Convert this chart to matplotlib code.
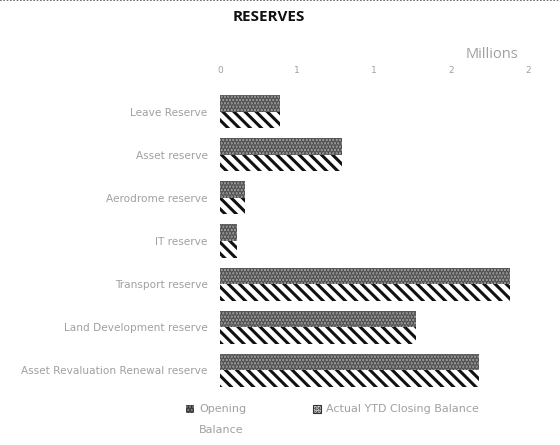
import matplotlib
matplotlib.use("Agg")
import matplotlib.pyplot as plt
import numpy as np
from matplotlib.patches import Rectangle
from matplotlib.lines import Line2D

categories = ["Leave Reserve", "Asset reserve", "Aerodrome reserve", "IT reserve",
              "Transport reserve", "Land Development reserve",
              "Asset Revaluation Renewal reserve"]
opening = [0.39, 0.79, 0.16, 0.11, 1.88, 1.27, 1.68]
actual = [0.39, 0.79, 0.16, 0.11, 1.88, 1.27, 1.68]
xticks = [0, 0.5, 1.0, 1.5, 2.0]
xticklabels = ["0", "1", "1", "2", "2"]
series_names = ["Opening\nBalance", "Actual YTD Closing Balance"]

plt.rcParams['font.family'] = ['DejaVu Sans']
plt.rcParams['hatch.linewidth'] = 2.2

GRAY_TXT = '#a0a0a0'
OPEN_FC, OPEN_EC, OPEN_H = '#a4a4a4', '#4a4a4a', '.....'
ACT_FC, ACT_EC, ACT_H = 'white', '#111111', '\\\\\\'

fig = plt.figure(figsize=(5.6, 4.45), dpi=100)
ax = fig.add_axes([220/560, 1-392/445, 308/560, 302/445])

y = np.arange(len(categories))
h = 0.385
ax.barh(y - h/2, opening, height=h, color=OPEN_FC, edgecolor=OPEN_EC,
        hatch=OPEN_H, linewidth=0)
ax.barh(y + h/2, actual, height=h, color=ACT_FC, edgecolor=ACT_EC,
        hatch=ACT_H, linewidth=0)

ax.set_xlim(0, 2)
ax.set_ylim(len(categories) - 0.5, -0.5)
ax.set_yticks(y)
ax.set_yticklabels(categories, fontsize=7.6, color=GRAY_TXT)
ax.set_xticks(xticks)
ax.set_xticklabels(xticklabels, fontsize=6.5, color=GRAY_TXT)
ax.xaxis.tick_top()
ax.tick_params(axis='x', length=0, pad=11)
ax.tick_params(axis='y', length=0, pad=9)
for s in ax.spines.values():
    s.set_visible(False)

fig.text(269/560, 1-17/445, "RESERVES", ha='center', va='center',
         fontsize=11, fontweight='bold', color='#111111',
         family=['Open Sans', 'DejaVu Sans'])
fig.text(492/560, 1-54/445, "Millions", ha='center', va='center',
         fontsize=10.5, color=GRAY_TXT, family=['Open Sans', 'DejaVu Sans'])

# legend built from series names and styles
leg_specs = [(186, '#8a8a8a', '#333333', OPEN_H, 0),
             (313, '#f2f2f2', '#333333', '....', 0.8)]
for (lx, fc, ec, hp, lw), name in zip(leg_specs, series_names):
    fig.add_artist(Rectangle((lx/560, 1-413/445), 8/560, 8/445,
                             transform=fig.transFigure, facecolor=fc,
                             edgecolor=ec, hatch=hp, linewidth=lw))
    fig.text((lx+13)/560, 1-404/445, name, ha='left', va='top',
             fontsize=8, color=GRAY_TXT, linespacing=2.4)

fig.add_artist(Line2D([0, 1], [0.999, 0.999], transform=fig.transFigure,
                      color='#555555', linewidth=1.2, linestyle=(0, (1, 1))))

fig.savefig("out.png", dpi=100)
